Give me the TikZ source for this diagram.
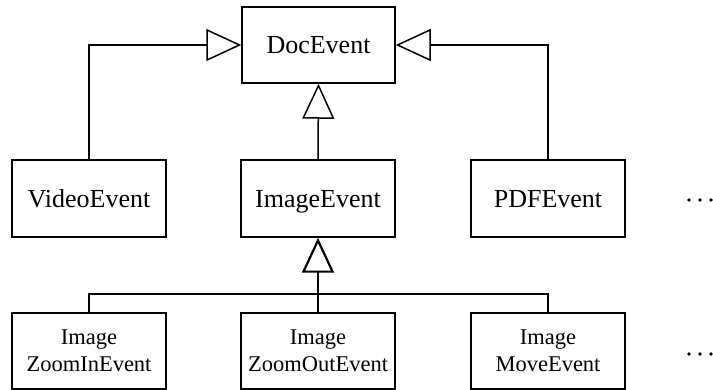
\documentclass[tikz,border=0pt]{standalone}
\usepackage{fontspec}
\setmainfont{Liberation Serif}
\usetikzlibrary{arrows.meta}
\begin{document}
\begin{tikzpicture}[x=1pt,y=-1pt,
  boxbase/.style={draw, line width=1.5pt, inner sep=0pt,
    minimum width=154pt, align=center},
  classbox/.style={boxbase, minimum height=77pt,
    text height=17.4pt, text depth=0pt,
    font=\fontsize{26}{30}\selectfont},
  subbox/.style={boxbase, minimum height=76pt,
    font=\fontsize{22.5}{27}\selectfont},
  link/.style={line width=1.5pt},
  inherit/.style={link, -{Triangle[open, length=35pt, width=32pt]}},
  ellipsisdot/.style={circle, fill=black, inner sep=0pt, minimum size=3.8pt}
]
\useasboundingbox (0,0) rectangle (713,390);

% top level
\node[classbox, minimum width=153pt, minimum height=76pt] (doc) at (318.5,45) {DocEvent};

% second level
\node[classbox] (video) at (89,198.5)  {VideoEvent};
\node[classbox] (image) at (318,198.5) {ImageEvent};
\node[classbox] (pdf)   at (548,198.5) {PDFEvent};

% third level
\node[subbox] (zin)   at (89,351)  {Image\\ZoomInEvent};
\node[subbox] (zout)  at (318,351) {Image\\ZoomOutEvent};
\node[subbox] (zmove) at (548,351) {Image\\MoveEvent};

% generalisation links to DocEvent
\draw[inherit] (video.north) |- (doc.west);
\draw[inherit] (pdf.north)   |- (doc.east);
\draw[inherit] (image.north) -- (doc.south);

% generalisation links to ImageEvent
\coordinate (bus) at (318,294);
\draw[link] (zin.north) |- (bus) -| (zmove.north);
\draw[link] (zout.north) -- (bus);
\draw[inherit, line width=2.2pt] (bus) -- (image.south);

% further classes omitted
\foreach \x [count=\i] in {689,700,711} {
  \node[ellipsisdot] (rowa\i) at (\x,200) {};
  \node[ellipsisdot] (rowb\i) at (\x,354) {};
}
\end{tikzpicture}
\end{document}
